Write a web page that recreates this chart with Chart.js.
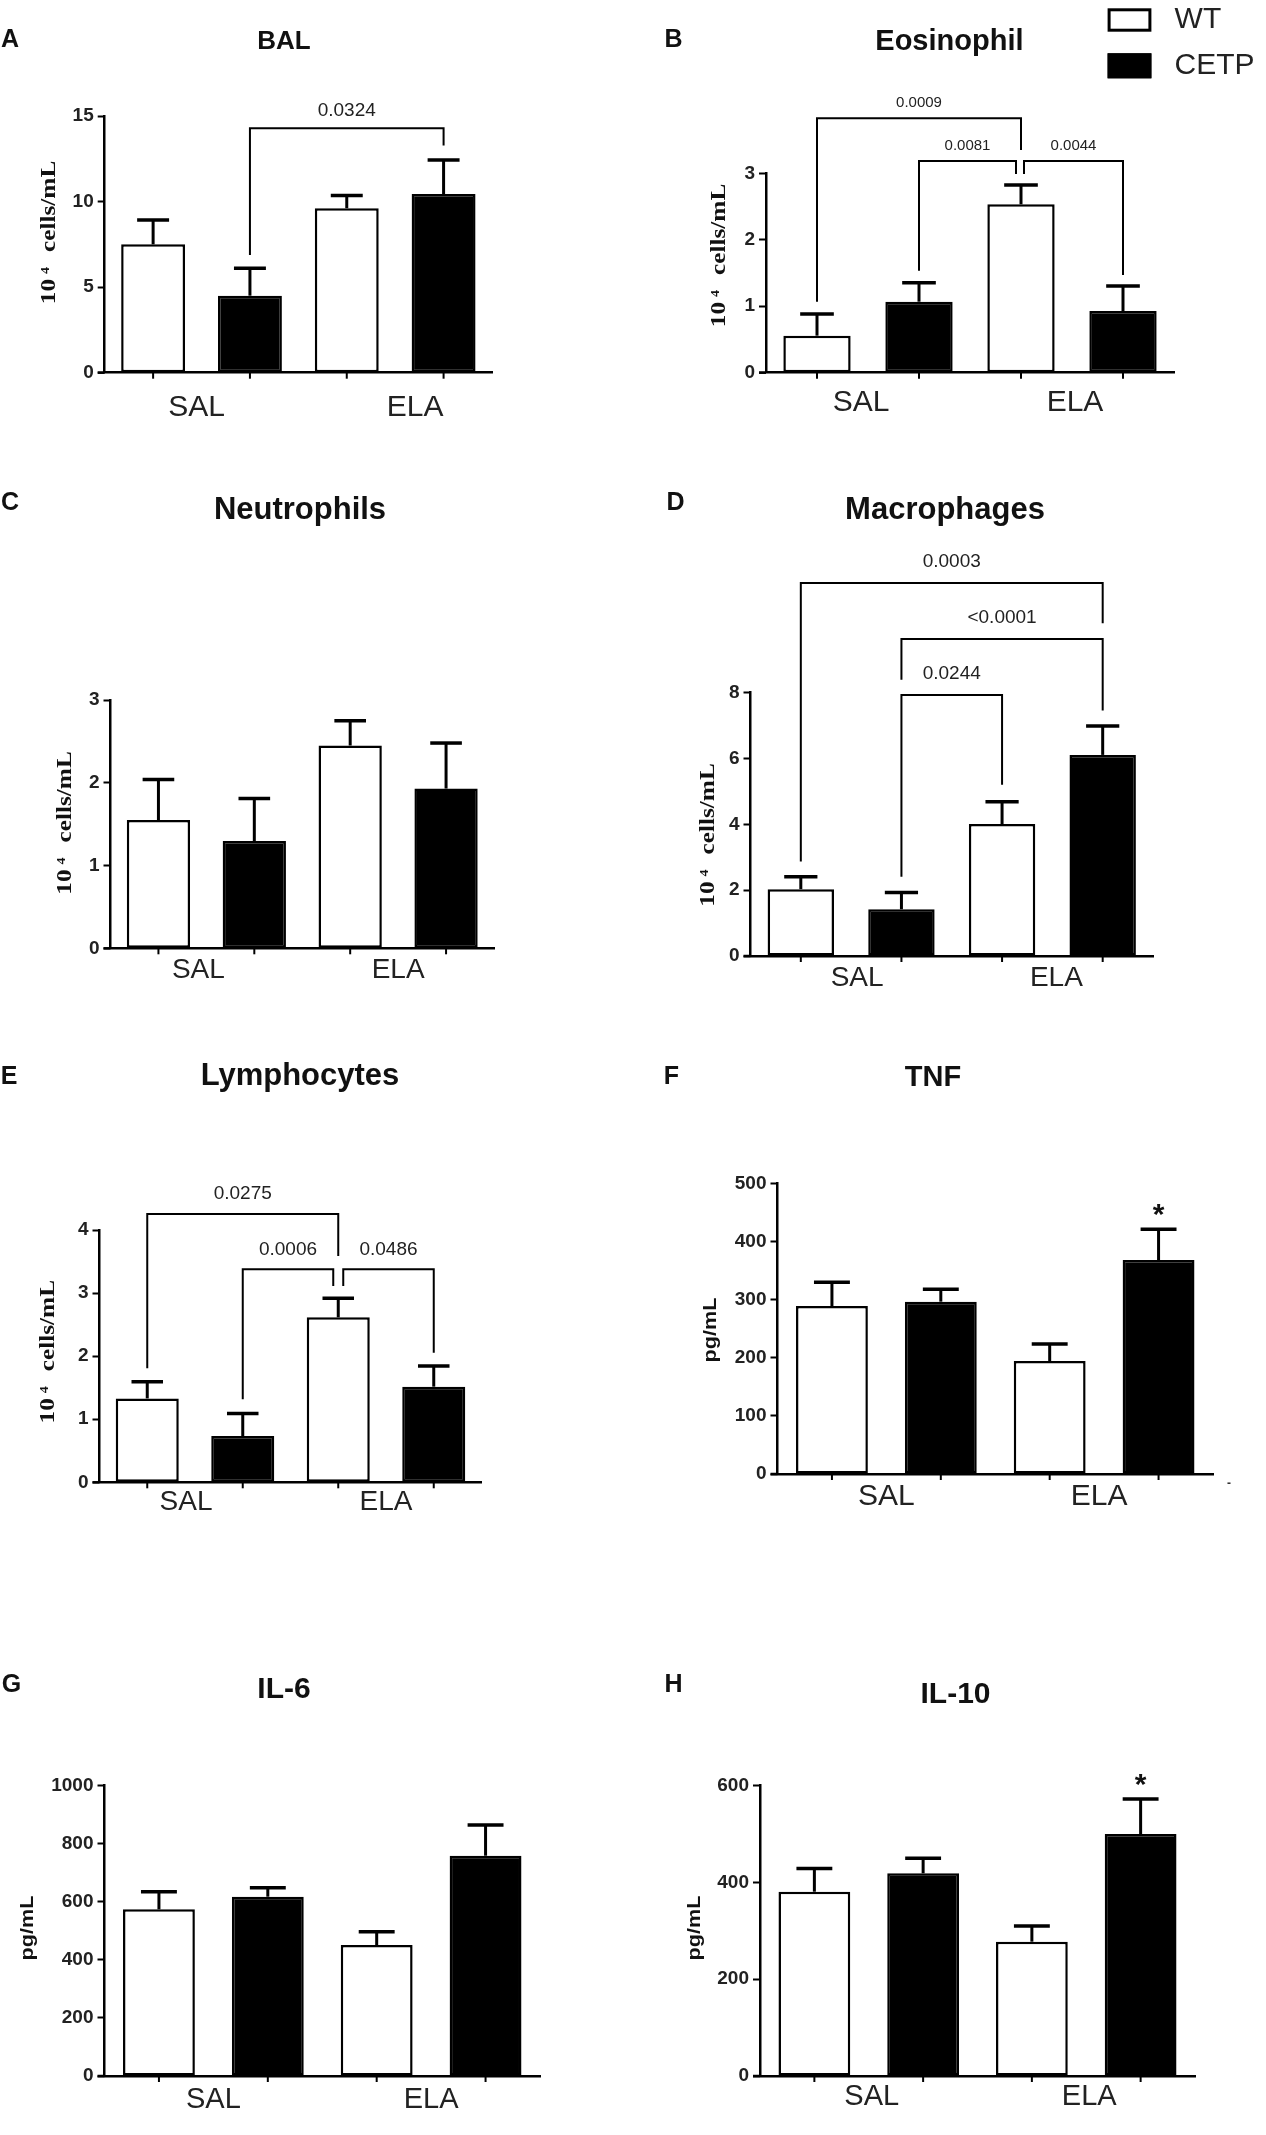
<!DOCTYPE html>
<html>
<head>
<meta charset="utf-8">
<script src="https://cdn.jsdelivr.net/npm/chart.js@4.4.1/dist/chart.umd.min.js"></script>
<style>
html, body { margin: 0; padding: 0; background: #fff; }
#page { position: relative; width: 1266px; height: 2135px; overflow: hidden; background: #fff; }
#page canvas { position: absolute; }
</style>
</head>
<body>
<div id="page"></div>
<script>
// ---------------- DATA ----------------
const groups = ['SAL', 'ELA'];
const seriesNames = ['WT', 'CETP'];

// A - BAL (10^4 cells/mL)
const balWT = [7.50, 9.61];
const balWTsem = [1.42, 0.74];
const balCETP = [4.50, 10.44];
const balCETPsem = [1.60, 1.99];
const balBrackets = [
  { from: 1, to: 3, top: 14.28, fromEnd: 6.88, toEnd: 13.27, text: '0.0324' }
];

// B - Eosinophil
const eosWT = [0.557, 2.533];
const eosWTsem = [0.326, 0.291];
const eosCETP = [1.068, 0.928];
const eosCETPsem = [0.286, 0.376];
const eosBrackets = [
  { from: 0, to: 2, top: 3.827, fromEnd: 1.068, toEnd: 3.35, text: '0.0009' },
  { from: 1, to: 2, top: 3.185, fromEnd: 1.535, toEnd: 2.99, text: '0.0081' },
  { from: 2, to: 3, top: 3.185, fromEnd: 2.99, toEnd: 1.47, text: '0.0044' }
];

// C - Neutrophils
const neuWT = [1.55, 2.45];
const neuWTsem = [0.49, 0.30];
const neuCETP = [1.296, 1.93];
const neuCETPsem = [0.514, 0.55];
const neuBrackets = [];

// D - Macrophages
const macWT = [2.03, 4.01];
const macWTsem = [0.38, 0.68];
const macCETP = [1.42, 6.11];
const macCETPsem = [0.51, 0.88];
const macBrackets = [
  { from: 0, to: 3, top: 11.33, fromEnd: 2.87, toEnd: 10.11, text: '0.0003' },
  { from: 1, to: 3, top: 9.635, fromEnd: 8.39, toEnd: 7.456, text: '<0.0001' },
  { from: 1, to: 2, top: 7.93, fromEnd: 2.41, toEnd: 5.2, text: '0.0244' }
];

// E - Lymphocytes
const lymWT = [1.33, 2.615];
const lymWTsem = [0.265, 0.302];
const lymCETP = [0.734, 1.516];
const lymCETPsem = [0.356, 0.328];
const lymBrackets = [
  { from: 0, to: 2, top: 4.253, fromEnd: 1.807, toEnd: 3.587, text: '0.0275' },
  { from: 1, to: 2, top: 3.376, fromEnd: 1.316, toEnd: 3.112, text: '0.0006' },
  { from: 2, to: 3, top: 3.376, fromEnd: 3.112, toEnd: 2.055, text: '0.0486' }
];

// F - TNF (pg/mL)
const tnfWT = [289, 194.4];
const tnfWTsem = [40.8, 29.2];
const tnfCETP = [296.4, 368];
const tnfCETPsem = [21.3, 53];
const tnfMarks = [{ bar: 3, value: 460, text: '*' }];

// G - IL-6 (pg/mL)
const il6WT = [574, 451];
const il6WTsem = [61, 46];
const il6CETP = [617.6, 758.8];
const il6CETPsem = [31, 105.7];

// H - IL-10 (pg/mL)
const il10WT = [380.9, 277.6];
const il10WTsem = [48.1, 32.4];
const il10CETP = [418.9, 500];
const il10CETPsem = [31, 72.4];
const il10Marks = [{ bar: 3, value: 618, text: '*' }];

// ---------------- STYLE / LAYOUT ----------------
const SANS = '"Liberation Sans", Arial, Helvetica, sans-serif';
const SERIF = '"Liberation Serif", "Times New Roman", Times, serif';
Chart.defaults.font.family = SANS;
Chart.defaults.color = '#222';
const Y_W = 80; // width reserved for the y scale (tick labels)

const panels = [
  { letter: 'A', title: 'BAL', wt: balWT, wtSem: balWTsem, cetp: balCETP, cetpSem: balCETPsem,
    brackets: balBrackets, ymax: 15, step: 5, unit: 'cells',
    box: [0, 0, 633, 450], area: [104.7, 492, 116, 372.7],
    letterPos: [10, 40], titlePos: [284, 42], titleSize: 26, yTitle: [54.5, 232.5],
    labelOff: 35, labelSize: 30, labelNudge: [-5, 20], pFont: 19, pOff: 18, nudges: [[0, 0]] },
  { letter: 'B', title: 'Eosinophil', wt: eosWT, wtSem: eosWTsem, cetp: eosCETP, cetpSem: eosCETPsem,
    brackets: eosBrackets, ymax: 3, step: 1, unit: 'cells', legend: true,
    box: [633, 0, 633, 450], area: [766, 1174, 173.3, 372.7],
    letterPos: [673.6, 40], titlePos: [949.4, 41.7], titleSize: 29, yTitle: [725, 255.5],
    labelOff: 30, labelSize: 30, labelNudge: [-7, 3], pFont: 15, pOff: 15, nudges: [[0, 0], [0, -5], [3, 0]] },
  { letter: 'C', title: 'Neutrophils', wt: neuWT, wtSem: neuWTsem, cetp: neuCETP, cetpSem: neuCETPsem,
    brackets: neuBrackets, ymax: 3, step: 1, unit: 'cells',
    box: [0, 450, 633, 560], area: [110.5, 494, 700, 948.3],
    letterPos: [10, 503], titlePos: [300, 510], titleSize: 31, yTitle: [71, 823],
    labelOff: 22, labelSize: 28, labelNudge: [-8, 0], pFont: 19, pOff: 20, nudges: [] },
  { letter: 'D', title: 'Macrophages', wt: macWT, wtSem: macWTsem, cetp: macCETP, cetpSem: macCETPsem,
    brackets: macBrackets, ymax: 8, step: 2, unit: 'cells',
    box: [633, 450, 633, 560], area: [750.5, 1153, 692.7, 956],
    letterPos: [675.6, 503], titlePos: [945, 510], titleSize: 31, yTitle: [714, 835],
    labelOff: 22, labelSize: 28, labelNudge: [6, 4], pFont: 19, pOff: 21, nudges: [[0, 0], [0, 0], [0, 0]] },
  { letter: 'E', title: 'Lymphocytes', wt: lymWT, wtSem: lymWTsem, cetp: lymCETP, cetpSem: lymCETPsem,
    brackets: lymBrackets, ymax: 4, step: 1, unit: 'cells',
    box: [0, 1010, 633, 590], area: [99.5, 481.5, 1230, 1482.3],
    letterPos: [9, 1076.7], titlePos: [300, 1076.7], titleSize: 31, yTitle: [54, 1351.7],
    labelOff: 20, labelSize: 28, labelNudge: [-9, 0], pFont: 19, pOff: 20, nudges: [[0, 0], [0, -5], [5, 0]] },
  { letter: 'F', title: 'TNF', wt: tnfWT, wtSem: tnfWTsem, cetp: tnfCETP, cetpSem: tnfCETPsem,
    brackets: [], marks: tnfMarks, ymax: 500, step: 100, unit: 'pg', stray: [1229, 1484],
    box: [633, 1010, 633, 590], area: [777.5, 1213, 1183.3, 1474],
    letterPos: [671.5, 1076.7], titlePos: [933, 1078.3], titleSize: 29, yTitle: [716, 1330],
    labelOff: 23, labelSize: 30, labelNudge: [0, -5], pFont: 19, pOff: 20, nudges: [] },
  { letter: 'G', title: 'IL-6', wt: il6WT, wtSem: il6WTsem, cetp: il6CETP, cetpSem: il6CETPsem,
    brackets: [], ymax: 1000, step: 200, unit: 'pg',
    box: [0, 1600, 633, 535], area: [104.5, 540, 1785.7, 2076],
    letterPos: [11.4, 1685], titlePos: [284, 1690], titleSize: 30, yTitle: [32.7, 1928],
    labelOff: 24, labelSize: 29, labelNudge: [0, 0], pFont: 19, pOff: 20, nudges: [] },
  { letter: 'H', title: 'IL-10', wt: il10WT, wtSem: il10WTsem, cetp: il10CETP, cetpSem: il10CETPsem,
    brackets: [], marks: il10Marks, ymax: 600, step: 200, unit: 'pg',
    box: [633, 1600, 633, 535], area: [760, 1195, 1785.7, 2076],
    letterPos: [673.6, 1685], titlePos: [955.5, 1695], titleSize: 30, yTitle: [700, 1928],
    labelOff: 21, labelSize: 29, labelNudge: [3, 3], pFont: 19, pOff: 20, nudges: [] }
];

function drawCellsTitle(ctx, bx, cy) {
  ctx.save();
  ctx.translate(bx, cy);
  ctx.rotate(-Math.PI / 2);
  const sx = 1.15;
  ctx.scale(sx, 1);
  ctx.fillStyle = '#111';
  ctx.textBaseline = 'alphabetic';
  ctx.textAlign = 'left';
  const big = 'bold 22px ' + SERIF, small = 'bold 12px ' + SERIF;
  ctx.font = big;
  const wA = ctx.measureText('10').width;
  const wB = ctx.measureText('cells/mL').width;
  ctx.font = small;
  const wS = ctx.measureText('4').width;
  const g1 = 5 / sx, g2 = 15 / sx;
  const total = wA + g1 + wS + g2 + wB;
  let x = -total / 2;
  ctx.font = big;
  ctx.fillText('10', x, 0);
  x += wA + g1;
  ctx.font = small;
  ctx.fillText('4', x, -6);
  x += wS + g2;
  ctx.font = big;
  ctx.fillText('cells/mL', x, 0);
  ctx.restore();
}

function drawPgTitle(ctx, bx, cy) {
  ctx.save();
  ctx.translate(bx, cy);
  ctx.rotate(-Math.PI / 2);
  ctx.scale(1.2, 1);
  ctx.fillStyle = '#111';
  ctx.textBaseline = 'alphabetic';
  ctx.textAlign = 'center';
  ctx.font = 'bold 18px ' + SANS;
  ctx.fillText('pg/mL', 0, 0);
  ctx.restore();
}

function panelPlugin(cfg) {
  return {
    id: 'panel' + cfg.letter,
    afterDraw(chart) {
      const ctx = chart.ctx;
      const ys = chart.scales.y, xs = chart.scales.x;
      const area = chart.chartArea;
      const ox = cfg.box[0], oy = cfg.box[1];
      const P = v => ys.getPixelForValue(v);

      // bar geometry from the library
      const bars = [];
      for (let g = 0; g < groups.length; g++) {
        for (let d = 0; d < 2; d++) {
          const el = chart.getDatasetMeta(d).data[g];
          bars.push({ x: el.x, w: el.width, d, g });
        }
      }
      const means = [cfg.wt, cfg.cetp], sems = [cfg.wtSem, cfg.cetpSem];

      ctx.save();
      ctx.strokeStyle = '#000';
      ctx.lineCap = 'butt';

      // x axis extension to the left + tick marks at bars
      ctx.lineWidth = 2.5;
      ctx.beginPath();
      ctx.moveTo(area.left - 7, area.bottom);
      ctx.lineTo(area.left, area.bottom);
      ctx.stroke();
      ctx.lineWidth = 2;
      bars.forEach(b => {
        ctx.beginPath();
        ctx.moveTo(b.x, area.bottom);
        ctx.lineTo(b.x, area.bottom + 6);
        ctx.stroke();
      });

      // error bars (mean + SEM)
      bars.forEach(b => {
        const m = means[b.d][b.g], s = sems[b.d][b.g];
        const y0 = P(m), y1 = P(m + s);
        ctx.lineWidth = 3;
        ctx.beginPath();
        ctx.moveTo(b.x, y0);
        ctx.lineTo(b.x, y1);
        ctx.stroke();
        ctx.lineWidth = 3.5;
        ctx.beginPath();
        ctx.moveTo(b.x - b.w / 4, y1);
        ctx.lineTo(b.x + b.w / 4, y1);
        ctx.stroke();
      });

      // significance brackets
      (cfg.brackets || []).forEach((br, i) => {
        const nd = cfg.nudges[i] || [0, 0];
        const x1 = bars[br.from].x + nd[0], x2 = bars[br.to].x + nd[1];
        const yt = P(br.top);
        ctx.lineWidth = 2;
        ctx.lineJoin = 'miter';
        ctx.beginPath();
        ctx.moveTo(x1, P(br.fromEnd));
        ctx.lineTo(x1, yt);
        ctx.lineTo(x2, yt);
        ctx.lineTo(x2, P(br.toEnd));
        ctx.stroke();
        ctx.fillStyle = '#222';
        ctx.font = cfg.pFont + 'px ' + SANS;
        ctx.textAlign = 'center';
        ctx.textBaseline = 'middle';
        ctx.fillText(br.text, (x1 + x2) / 2, yt - cfg.pOff);
      });

      // asterisks
      (cfg.marks || []).forEach(mk => {
        ctx.fillStyle = '#111';
        ctx.font = 'bold 30px ' + SANS;
        ctx.textAlign = 'center';
        ctx.textBaseline = 'alphabetic';
        ctx.fillText(mk.text, bars[mk.bar].x, P(mk.value) + 17);
      });

      // group labels
      ctx.fillStyle = '#222';
      ctx.font = cfg.labelSize + 'px ' + SANS;
      ctx.textAlign = 'center';
      ctx.textBaseline = 'middle';
      groups.forEach((g, i) => {
        ctx.fillText(g, xs.getPixelForValue(i) + cfg.labelNudge[i], area.bottom + cfg.labelOff);
      });

      // panel letter & title
      ctx.fillStyle = '#111';
      ctx.font = 'bold 25px ' + SANS;
      ctx.fillText(cfg.letter, cfg.letterPos[0] - ox, cfg.letterPos[1] - oy);
      ctx.font = 'bold ' + cfg.titleSize + 'px ' + SANS;
      ctx.fillText(cfg.title, cfg.titlePos[0] - ox, cfg.titlePos[1] - oy);

      // y-axis title
      if (cfg.unit === 'cells') drawCellsTitle(ctx, cfg.yTitle[0] - ox, cfg.yTitle[1] - oy);
      else drawPgTitle(ctx, cfg.yTitle[0] - ox, cfg.yTitle[1] - oy);

      // stray mark present in the original
      if (cfg.stray) {
        ctx.fillStyle = '#333';
        ctx.font = 'bold 12px ' + SANS;
        ctx.textAlign = 'center';
        ctx.textBaseline = 'middle';
        ctx.fillText('-', cfg.stray[0] - ox, cfg.stray[1] - oy);
      }

      // legend (panel B)
      if (cfg.legend) {
        const ds = chart.data.datasets;
        const boxes = [[1107.6, 8.3, 43.8, 23.4], [1107.6, 53.3, 43.8, 25]];
        const textY = [20, 66];
        ds.forEach((d, i) => {
          const b = boxes[i];
          ctx.fillStyle = d.backgroundColor;
          ctx.fillRect(b[0] - ox, b[1] - oy, b[2], b[3]);
          ctx.lineWidth = 3;
          ctx.strokeStyle = d.borderColor;
          ctx.strokeRect(b[0] - ox + 1.5, b[1] - oy + 1.5, b[2] - 3, b[3] - 3);
          ctx.fillStyle = '#222';
          ctx.font = '30px ' + SANS;
          ctx.textAlign = 'left';
          ctx.textBaseline = 'middle';
          ctx.fillText(d.label, 1174.6 - ox, textY[i] - oy);
        });
      }
      ctx.restore();
    }
  };
}

const page = document.getElementById('page');
panels.forEach(cfg => {
  const [bx, by, W, H] = cfg.box;
  const cv = document.createElement('canvas');
  cv.width = W; cv.height = H;
  cv.style.left = bx + 'px'; cv.style.top = by + 'px';
  cv.style.width = W + 'px'; cv.style.height = H + 'px';
  page.appendChild(cv);
  const pad = {
    left: cfg.area[0] - bx - Y_W,
    right: bx + W - cfg.area[1],
    top: cfg.area[2] - by,
    bottom: by + H - cfg.area[3]
  };
  new Chart(cv, {
    type: 'bar',
    data: {
      labels: groups,
      datasets: [
        { label: seriesNames[0], data: cfg.wt, backgroundColor: '#ffffff', borderColor: '#000000',
          borderWidth: 2.5, borderSkipped: false, categoryPercentage: 1, barPercentage: 0.66 },
        { label: seriesNames[1], data: cfg.cetp, backgroundColor: '#000000', borderColor: '#000000',
          borderWidth: 2.5, borderSkipped: false, categoryPercentage: 1, barPercentage: 0.66 }
      ]
    },
    options: {
      responsive: false,
      animation: false,
      devicePixelRatio: 1,
      layout: { padding: pad },
      plugins: { legend: { display: false }, tooltip: { enabled: false }, title: { display: false } },
      scales: {
        x: {
          offset: true,
          ticks: { display: false },
          grid: { display: true, drawOnChartArea: false, drawTicks: false },
          border: { display: true, color: '#000', width: 2.5 },
          afterFit(s) { s.height = 0; }
        },
        y: {
          min: 0, max: cfg.ymax,
          ticks: { stepSize: cfg.step, padding: 4, color: '#222',
                   callback: v => String(v),
                   font: { family: SANS, size: 19, weight: 'bold' } },
          grid: { display: true, drawOnChartArea: false, drawTicks: true, tickLength: 7,
                  tickWidth: 2, tickColor: '#000' },
          border: { display: true, color: '#000', width: 2.5 },
          afterFit(s) { s.width = Y_W; }
        }
      }
    },
    plugins: [panelPlugin(cfg)]
  });
});
</script>
</body>
</html>
